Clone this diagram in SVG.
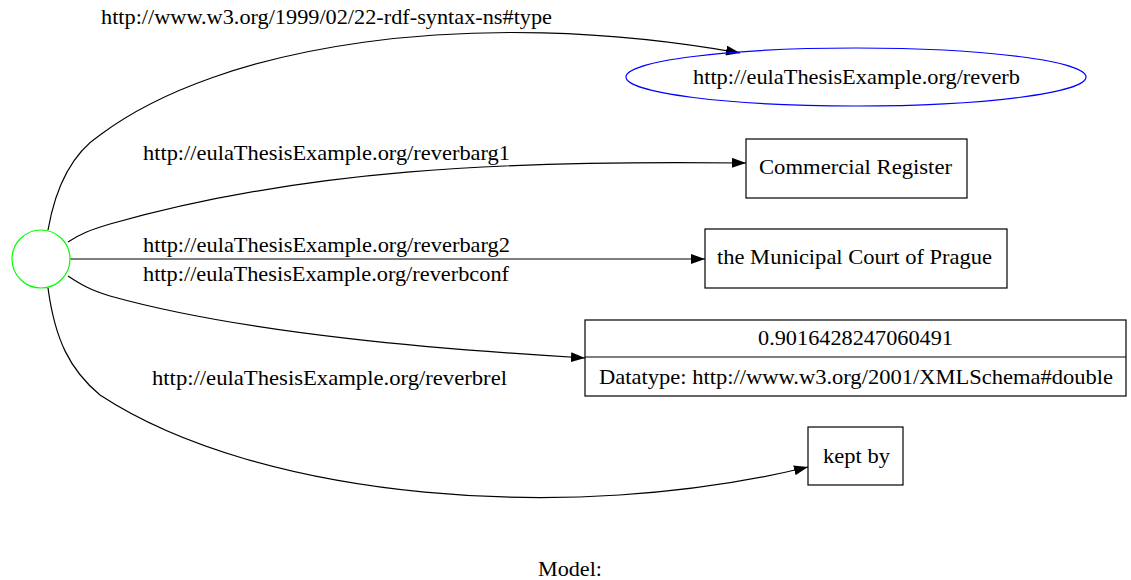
<svg xmlns="http://www.w3.org/2000/svg" width="1131" height="580" viewBox="0 0 1131 580">
<defs>
<style>
text{font-family:"Liberation Serif","Times New Roman",serif;font-size:22px;fill:#000}
.n{fill:none;stroke:#000;stroke-width:1.2}
.e{fill:none;stroke:#000;stroke-width:1.2}
</style>
<marker id="arr" viewBox="0 0 14 10" refX="14" refY="5" markerWidth="14" markerHeight="10" markerUnits="userSpaceOnUse" orient="auto">
<path d="M0,0 L14,5 L0,10 Z" fill="#000"/>
</marker>
</defs>
<rect width="1131" height="580" fill="#fff"/>
<g id="edges">
<path class="e" marker-end="url(#arr)" d="M48,230 C55,190 70,155 100,135 C220,45 470,5 740,53"/>
<path class="e" marker-end="url(#arr)" d="M68,242 C80,234 90,230 110,224 C300,170 500,160 746,163"/>
<path class="e" marker-end="url(#arr)" d="M70,259 L705,259"/>
<path class="e" marker-end="url(#arr)" d="M68,276 C80,284 90,290 110,296 C250,335 450,350 585,358"/>
<path class="e" marker-end="url(#arr)" d="M48,288 C55,340 70,370 100,395 C260,500 570,525 808,467"/>
<text x="101" y="24" textLength="451" lengthAdjust="spacingAndGlyphs">http://www.w3.org/1999/02/22-rdf-syntax-ns#type</text>
<text x="143" y="160" textLength="367" lengthAdjust="spacingAndGlyphs">http://eulaThesisExample.org/reverbarg1</text>
<text x="143" y="252" textLength="367" lengthAdjust="spacingAndGlyphs">http://eulaThesisExample.org/reverbarg2</text>
<text x="143" y="281" textLength="366" lengthAdjust="spacingAndGlyphs">http://eulaThesisExample.org/reverbconf</text>
<text x="152" y="385" textLength="355" lengthAdjust="spacingAndGlyphs">http://eulaThesisExample.org/reverbrel</text>
</g>
<g id="subject">
<circle cx="41" cy="259" r="29" fill="none" stroke="#00ff00" stroke-width="1.2"/>
</g>
<g id="reverb">
<ellipse cx="856" cy="77" rx="230" ry="29" fill="none" stroke="#0000ff" stroke-width="1.2"/>
<text x="693" y="84" textLength="327" lengthAdjust="spacingAndGlyphs">http://eulaThesisExample.org/reverb</text>
</g>
<g id="commercial">
<rect class="n" x="746" y="139" width="221" height="59"/>
<text x="759" y="174" textLength="193" lengthAdjust="spacingAndGlyphs">Commercial Register</text>
</g>
<g id="court">
<rect class="n" x="705" y="229" width="302" height="59"/>
<text x="717" y="264" textLength="275" lengthAdjust="spacingAndGlyphs">the Municipal Court of Prague</text>
</g>
<g id="literal">
<rect class="n" x="585" y="320" width="541" height="76"/>
<line class="n" x1="585" y1="357" x2="1126" y2="357"/>
<text x="758" y="345" textLength="195" lengthAdjust="spacingAndGlyphs">0.9016428247060491</text>
<text x="599" y="384" textLength="514" lengthAdjust="spacingAndGlyphs">Datatype: http://www.w3.org/2001/XMLSchema#double</text>
</g>
<g id="keptby">
<rect class="n" x="808" y="427" width="95" height="58"/>
<text x="823" y="463" textLength="67" lengthAdjust="spacingAndGlyphs">kept by</text>
</g>
<text x="538" y="576" textLength="64" lengthAdjust="spacingAndGlyphs">Model:</text>
</svg>
